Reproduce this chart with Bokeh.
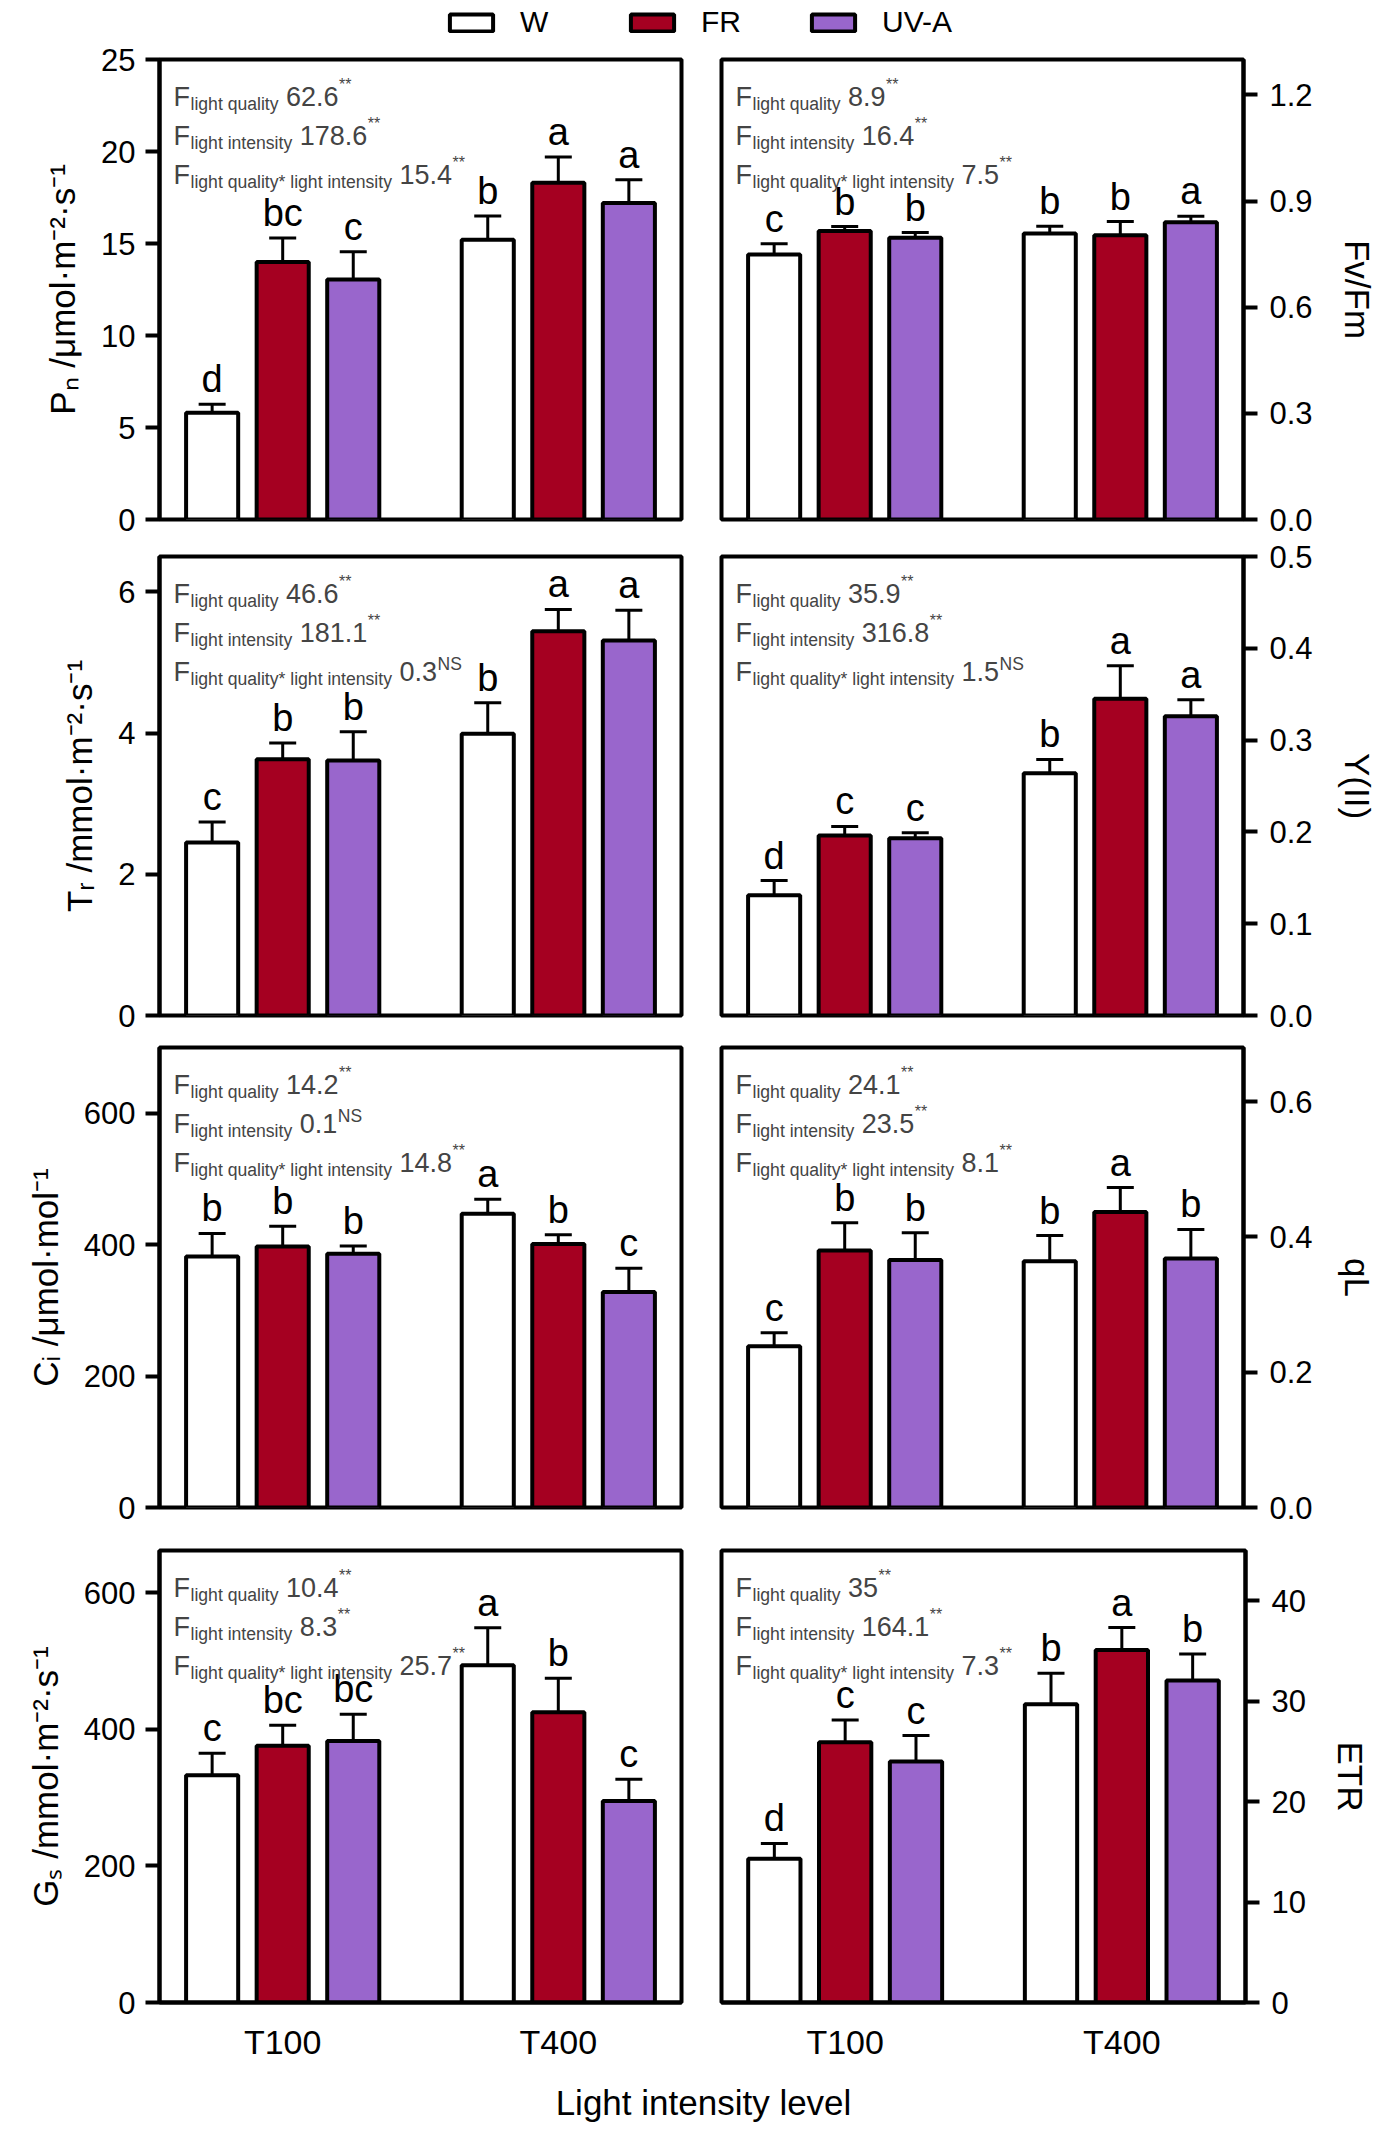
import numpy as np
from bokeh.plotting import figure
from bokeh.models import (ColumnDataSource, Range1d, FixedTicker, PrintfTickFormatter,
                          Whisker, TeeHead, Label, Legend, LegendItem)
from bokeh.layouts import column, row
from bokeh.core.properties import value
from bokeh.embed import file_html
from bokeh.resources import INLINE

FONT = "Liberation Sans"

# ---------------- data ----------------
groups = ["T100", "T400"]
series = ["W", "FR", "UV-A"]
colors = ["#FFFFFF", "#A50021", "#9966CC"]

# each panel: rows = series (W, FR, UV-A), columns = groups (T100, T400)
pn_mean = [[5.8, 15.2], [14.0, 18.3], [13.05, 17.2]]
pn_err = [[0.47, 1.3], [1.3, 1.4], [1.5, 1.26]]
pn_letters = [["d", "b"], ["bc", "a"], ["c", "a"]]
pn_f = ["62.6", "178.6", "15.4"]
pn_sig = ["**", "**", "**"]

fvfm_mean = [[0.749, 0.808], [0.815, 0.803], [0.796, 0.840]]
fvfm_err = [[0.030, 0.021], [0.013, 0.039], [0.015, 0.017]]
fvfm_letters = [["c", "b"], ["b", "b"], ["b", "a"]]
fvfm_f = ["8.9", "16.4", "7.5"]
fvfm_sig = ["**", "**", "**"]

tr_mean = [[2.45, 3.99], [3.63, 5.44], [3.61, 5.31]]
tr_err = [[0.29, 0.44], [0.23, 0.31], [0.41, 0.43]]
tr_letters = [["c", "b"], ["b", "a"], ["b", "a"]]
tr_f = ["46.6", "181.1", "0.3"]
tr_sig = ["**", "**", "NS"]

y2_mean = [[0.131, 0.264], [0.196, 0.345], [0.193, 0.326]]
y2_err = [[0.016, 0.015], [0.010, 0.036], [0.006, 0.018]]
y2_letters = [["d", "b"], ["c", "a"], ["c", "a"]]
y2_f = ["35.9", "316.8", "1.5"]
y2_sig = ["**", "**", "NS"]

ci_mean = [[382, 447], [397, 401], [386, 328]]
ci_err = [[35, 22], [31, 14], [12, 36]]
ci_letters = [["b", "a"], ["b", "b"], ["b", "c"]]
ci_f = ["14.2", "0.1", "14.8"]
ci_sig = ["**", "NS", "**"]

ql_mean = [[0.2385, 0.364], [0.380, 0.437], [0.366, 0.368]]
ql_err = [[0.020, 0.038], [0.041, 0.036], [0.040, 0.043]]
ql_letters = [["c", "b"], ["b", "a"], ["b", "b"]]
ql_f = ["24.1", "23.5", "8.1"]
ql_sig = ["**", "**", "**"]

gs_mean = [[333, 494], [376, 425], [383, 295]]
gs_err = [[32, 55], [30, 50], [39, 32]]
gs_letters = [["c", "a"], ["bc", "b"], ["bc", "c"]]
gs_f = ["10.4", "8.3", "25.7"]
gs_sig = ["**", "**", "**"]

etr_mean = [[14.3, 29.7], [25.9, 35.1], [24.0, 32.05]]
etr_err = [[1.54, 3.07], [2.23, 2.23], [2.57, 2.65]]
etr_letters = [["d", "b"], ["c", "a"], ["c", "b"]]
etr_f = ["35", "164.1", "7.3"]
etr_sig = ["**", "**", "**"]

f_terms = ["light quality", "light intensity", "light quality* light intensity"]

# ---------------- helpers ----------------
ARIAL = {' ': 278, '*': 389, '.': 278, 'F': 611, 'N': 722, 'S': 667, 'a': 556, 'e': 556,
         'g': 556, 'h': 556, 'i': 222, 'l': 222, 'n': 556, 'q': 556, 's': 500, 't': 278,
         'u': 556, 'y': 500}


def tw(s, size):
    return sum(ARIAL.get(ch, 556) for ch in s) * size / 1000.0


BAR_W = 0.189
OFFS = [-0.256, 0.0, 0.256]

ROWS = [  # (height, top border, bottom border)
    (497, 18, 19),
    (497, 18, 20),
    (493, 12, 21),
    (536, 22, 62),
]

MAIN_FS, SUB_FS, SUP_FS, NS_FS = 27, 17.6, 16, 17.5
LETTER_FS = 38
sources = {}


def make_panel(key, side, ri, mean, err, letters, fvals, sigs, ymax, ticks, fmt, title):
    h, bt, bb = ROWS[ri]
    last = ri == 3
    if side == "left":
        w, bl, br = 700, 159, 19
    else:
        w, bl, br = 679, 21, 134
    p = figure(width=w, height=h, toolbar_location=None, output_backend="svg",
               x_range=Range1d(-0.447, 1.447), y_range=Range1d(0, ymax),
               y_axis_location=side, min_border_left=bl, min_border_right=br,
               min_border_top=bt, min_border_bottom=bb)
    p.background_fill_color = "white"
    p.border_fill_color = "white"
    p.outline_line_color = "black"
    p.outline_line_width = 4
    p.grid.visible = False

    for si, s in enumerate(series):
        xs = [gi + OFFS[si] for gi in range(len(groups))]
        m = mean[si]
        top = [m[k] + err[si][k] for k in range(len(groups))]
        src = ColumnDataSource(dict(x=xs, mean=m, top=top, letter=letters[si]))
        sources[(key, s)] = src
        wk = Whisker(base="x", lower="mean", upper="top", source=src, dimension="height",
                     line_width=3, line_color="black",
                     upper_head=TeeHead(size=27, line_width=3, line_color="black"),
                     lower_head=None)
        p.add_layout(wk)
        p.vbar(x="x", top="mean", bottom=0, width=BAR_W, source=src,
               fill_color=colors[si], line_color="black", line_width=4)
        p.text(x="x", y="top", text="letter", source=src, y_offset=-25,
               text_align="center", text_baseline="middle",
               text_font=value(FONT), text_font_size=f"{LETTER_FS}px", text_color="black")

    # y axis
    ax = p.yaxis[0]
    ax.ticker = FixedTicker(ticks=ticks)
    ax.formatter = PrintfTickFormatter(format=fmt)
    ax.major_tick_out = 14
    ax.major_tick_in = 0
    ax.major_tick_line_width = 4
    ax.minor_tick_line_color = None
    ax.axis_line_width = 4
    ax.major_label_standoff = 10 if side == "left" else 12
    ax.major_label_text_font = FONT
    ax.major_label_text_font_size = "31px"
    ax.major_label_text_color = "black"
    ax.axis_label = title
    ax.axis_label_text_font = FONT
    ax.axis_label_text_font_size = "35px"
    ax.axis_label_text_font_style = "normal"
    ax.axis_label_text_color = "black"
    ax.axis_label_standoff = 16 if side == "left" else 22

    # x axis
    xa = p.xaxis[0]
    if last:
        xa.ticker = FixedTicker(ticks=list(range(len(groups))))
        xa.major_label_overrides = {i: g for i, g in enumerate(groups)}
        xa.major_tick_line_color = None
        xa.minor_tick_line_color = None
        xa.axis_line_width = 4
        xa.major_label_standoff = 14
        xa.major_label_text_font = FONT
        xa.major_label_text_font_size = "34px"
        xa.major_label_text_color = "black"
    else:
        xa.visible = False

    # F statistics
    frame_h = h - bt - bb
    bases = [37, 76, 115]
    for li in range(3):
        by = frame_h - bases[li]
        x0 = 14
        p.add_layout(Label(x=x0, y=by, x_units="screen", y_units="screen", text="F",
                           text_font=FONT, text_font_size=f"{MAIN_FS}px", text_baseline="alphabetic"))
        xs_ = x0 + tw("F", MAIN_FS) + 0.5
        p.add_layout(Label(x=xs_, y=by - 7, x_units="screen", y_units="screen", text=f_terms[li],
                           text_font=FONT, text_font_size=f"{SUB_FS}px", text_baseline="alphabetic"))
        xn = xs_ + tw(f_terms[li], SUB_FS) + tw(" ", MAIN_FS)
        p.add_layout(Label(x=xn, y=by, x_units="screen", y_units="screen", text=fvals[li],
                           text_font=FONT, text_font_size=f"{MAIN_FS}px", text_baseline="alphabetic"))
        xsup = xn + tw(fvals[li], MAIN_FS) + 0.5
        if sigs[li] == "NS":
            p.add_layout(Label(x=xsup, y=by + 8, x_units="screen", y_units="screen", text="NS",
                               text_font=FONT, text_font_size=f"{NS_FS}px", text_baseline="alphabetic"))
        else:
            p.add_layout(Label(x=xsup, y=by + 12, x_units="screen", y_units="screen", text=sigs[li],
                               text_font=FONT, text_font_size=f"{SUP_FS}px", text_baseline="alphabetic"))
    return p


panels = [
    ("pn", "left", 0, pn_mean, pn_err, pn_letters, pn_f, pn_sig, 25, [0, 5, 10, 15, 20, 25], "%d",
     "Pₙ /μmol·m⁻²·s⁻¹"),
    ("fvfm", "right", 0, fvfm_mean, fvfm_err, fvfm_letters, fvfm_f, fvfm_sig, 1.3, [0, 0.3, 0.6, 0.9, 1.2], "%.1f",
     "Fv/Fm"),
    ("tr", "left", 1, tr_mean, tr_err, tr_letters, tr_f, tr_sig, 6.5, [0, 2, 4, 6], "%d",
     "Tᵣ /mmol·m⁻²·s⁻¹"),
    ("y2", "right", 1, y2_mean, y2_err, y2_letters, y2_f, y2_sig, 0.5, [0, 0.1, 0.2, 0.3, 0.4, 0.5], "%.1f",
     "Y(II)"),
    ("ci", "left", 2, ci_mean, ci_err, ci_letters, ci_f, ci_sig, 700, [0, 200, 400, 600], "%d",
     "Cᵢ /μmol·mol⁻¹"),
    ("ql", "right", 2, ql_mean, ql_err, ql_letters, ql_f, ql_sig, 0.68, [0, 0.2, 0.4, 0.6], "%.1f",
     "qL"),
    ("gs", "left", 3, gs_mean, gs_err, gs_letters, gs_f, gs_sig, 662, [0, 200, 400, 600], "%d",
     "Gₛ /mmol·m⁻²·s⁻¹"),
    ("etr", "right", 3, etr_mean, etr_err, etr_letters, etr_f, etr_sig, 45, [0, 10, 20, 30, 40], "%d",
     "ETR"),
]

figs = [make_panel(*a) for a in panels]

# ---------------- legend ----------------
leg = figure(width=1381, height=41, toolbar_location=None, output_backend="svg",
             x_range=Range1d(100, 101), y_range=Range1d(100, 101),
             min_border_left=0, min_border_right=0, min_border_top=0, min_border_bottom=0)
leg.axis.visible = False
leg.grid.visible = False
leg.outline_line_color = None
items = []
for si, s in enumerate(series):
    r = leg.vbar(x="x", top="mean", bottom=0, width=BAR_W, source=sources[("pn", s)],
                 fill_color=colors[si], line_color="black", line_width=4)
    r.visible = False
    items.append(LegendItem(label=s, renderers=[r]))
legend = Legend(items=items, orientation="horizontal", location=(444, 0.5),
                glyph_width=54, glyph_height=21, label_standoff=22, label_width=105,
                spacing=0, padding=0, margin=0, border_line_color=None,
                background_fill_alpha=0, label_text_font=FONT, label_text_font_size="30px",
                label_text_color="black", label_height=37)
leg.add_layout(legend)

# ---------------- x title ----------------
xt = figure(width=1381, height=65, toolbar_location=None, output_backend="svg",
            x_range=Range1d(0, 1), y_range=Range1d(0, 1),
            min_border_left=0, min_border_right=0, min_border_top=0, min_border_bottom=0)
xt.axis.visible = False
xt.grid.visible = False
xt.outline_line_color = None
xt.add_layout(Label(x=703, y=27, x_units="screen", y_units="screen", text="Light intensity level",
                    text_align="center", text_baseline="middle", text_font=FONT,
                    text_font_size="35px", text_color="black"))

layout = column(leg,
                row(figs[0], figs[1]),
                row(figs[2], figs[3]),
                row(figs[4], figs[5]),
                row(figs[6], figs[7]),
                xt)

open("out.html", "w").write(file_html(layout, INLINE))
